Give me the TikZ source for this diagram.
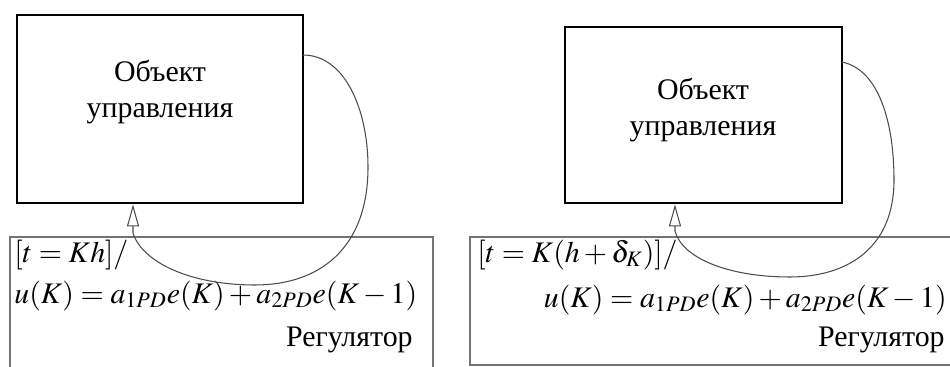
\documentclass[tikz,border=0pt]{standalone}
\usepackage{mathptmx}
\usepackage{fontspec}
\setmainfont{Liberation Serif}
\usetikzlibrary{arrows.meta}
\begin{document}
\begin{tikzpicture}[x=0.02cm,y=-0.02cm,
  objbox/.style={draw,line width=1.6pt},
  regbox/.style={draw=black!55,line width=0.9pt},
  txt/.style={font=\fontsize{17}{20}\selectfont,inner sep=0pt},
  loopline/.style={draw=black!70,line width=0.6pt,-{Triangle[open,length=0.44cm,width=0.24cm]}}]
\useasboundingbox (0,0) rectangle (950,367); \clip (0,0) rectangle (950,367);
% left: period h
\node[objbox,minimum width=5.72cm,minimum height=3.76cm] (obj1) at (160,109) {};
\node[regbox,minimum width=8.46cm,minimum height=2.8cm] (reg1) at (221.5,307) {};
\node[txt,align=center] (name1) at (160,92) {Объект\\управления};
\node[txt,anchor=west] (cond1) at (14,255) {$[t=Kh]/$};
\node[txt,anchor=west] (law1) at (14,296) {$u(K)=a_{1PD}e(K)+a_{2PD}e(K-1)$};
\node[txt,anchor=east] (rname1) at (413,340) {Регулятор};
\coordinate (s1) at (303,55); \coordinate (in1) at (133,233);
\draw[loopline] (s1) .. controls (345,55) and (368,110) .. (368,167) .. controls (368,250) and (318,285) .. (255,285) .. controls (190,285) and (142,262) .. (in1) -- (in1 |- obj1.south);
% right: period h+delta
\node[objbox,minimum width=5.54cm,minimum height=3.52cm] (obj2) at (703.5,115) {};
\node[regbox,minimum width=9.7cm,minimum height=2.56cm] (reg2) at (712.5,301) {};
\node[txt,align=center] (name2) at (703,110) {Объект\\управления};
\node[txt,anchor=west] (cond2) at (477,255) {$[t=K(h+\delta_K)]/$};
\node[txt,anchor=east] (law2) at (947,300) {$u(K)=a_{1PD}e(K)+a_{2PD}e(K-1)$};
\node[txt,anchor=east] (rname2) at (945,340) {Регулятор};
\coordinate (s2) at (842,62); \coordinate (in2) at (675,231);
\draw[loopline] (s2) .. controls (880,70) and (894,125) .. (894,180) .. controls (894,250) and (845,277) .. (790,277) .. controls (728,277) and (682,258) .. (in2) -- (in2 |- obj2.south);
\end{tikzpicture}
\end{document}
